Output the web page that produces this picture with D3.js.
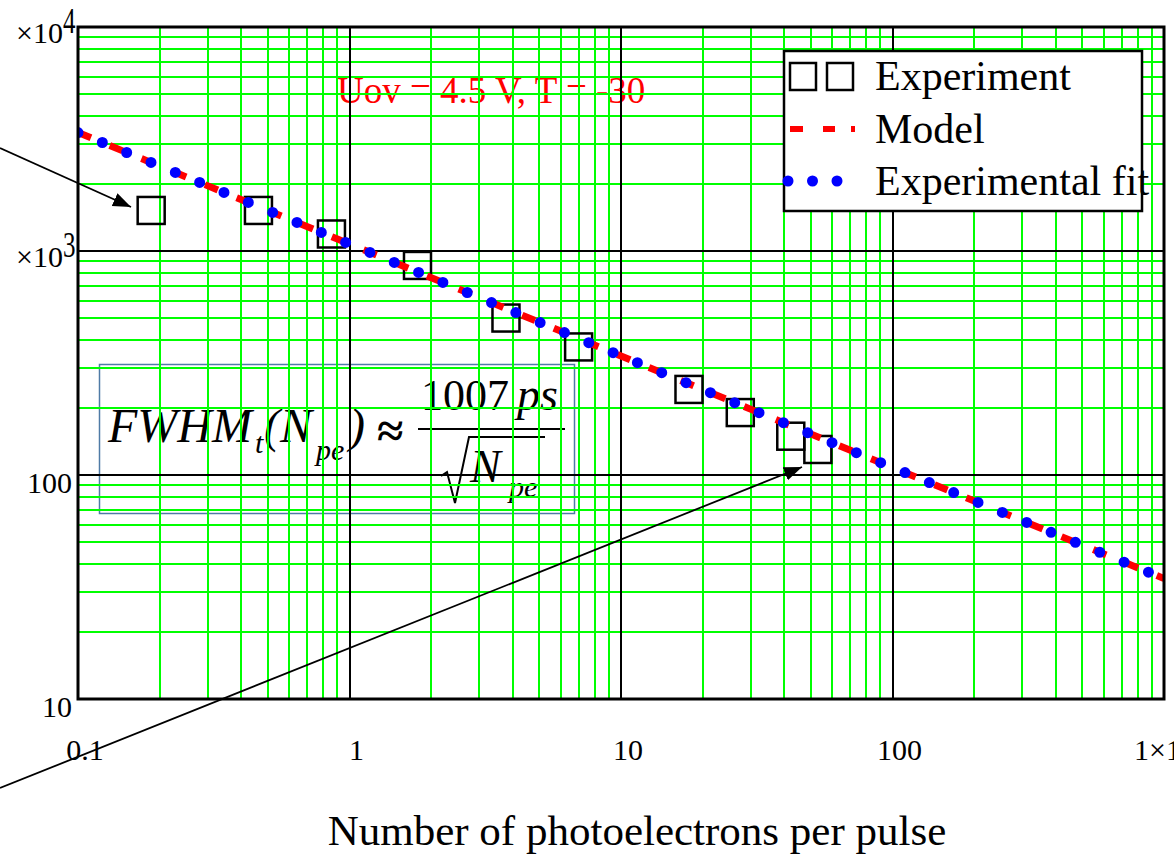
<html>
    <meta charset="utf-8">
    <head>
        <title> FWHM vs photoelectrons </title>
        <script charset="utf-8" src="https://cdn.jsdelivr.net/npm/d3@7"></script>
        <style>
            body { margin: 0; background: white; }
            text { font-family: "Liberation Serif", "Times New Roman", serif; }
        </style>
    </head>
    <body>
        <svg id="chart" width="1174" height="854"></svg>
    </body>
    <script>
        // experiment points
        const expN = [0.186, 0.462, 0.858, 1.78, 3.77, 6.98, 17.8, 27.5, 42.2, 53.1];
        const expFWHM = [1517, 1517, 1191, 862, 502, 373, 241, 190, 149, 130];
        // model line (red dashes)
        const modelN = [0.1, 1, 10, 100, 1000];
        const modelFWHM = [3380, 1075, 340, 108, 34.5];
        // experimental fit (blue dots)
        const fitN = [0.1, 1, 10, 100, 1000];
        const fitFWHM = [3380, 1075, 340, 108, 34.5];
        // tick labels
        const xTickVals = [0.1, 1, 10, 100, 1000];
        const xTickLabels = ["0.1", "1", "10", "100", "1×10"];
        const xTickSup = ["", "", "", "", "3"];
        const yTickVals = [10, 100, 1000, 10000];
        const yTickLabels = ["10", "100", "×10", "×10"];
        const yTickSup = ["", "", "3", "4"];
        const legendLabels = ["Experiment", "Model", "Experimental fit"];

        let margin = {top: 27, right: 9, bottom: 155, left: 78};
        let W = 1174, H = 854;
        let svg = d3.select("#chart");

        let x = d3.scaleLog().domain([0.1, 1000]).range([margin.left, W - margin.right - 1]);
        let y = d3.scaleLog().domain([10, 10000]).range([H - margin.bottom, margin.top]);
        let x0 = x.range()[0], x1 = x.range()[1], y0 = y.range()[0], y1 = y.range()[1];
        let px = v => Math.round(v);   // keep grid lines crisp

        svg.append("rect").attr("width", W).attr("height", H).attr("fill", "white");

        svg.append("defs").append("clipPath").attr("id", "plotclip")
            .append("rect").attr("x", x0).attr("y", y1).attr("width", x1 - x0).attr("height", y0 - y1);

        // red annotation text (under the grid)
        svg.append("text")
            .attr("x", 337).attr("y", 103)
            .style("font-size", "37px").style("fill", "red")
            .text("Uov = 4.5 V, T = -30");

        // formula box
        let fb = svg.append("g");
        fb.append("rect").attr("x", 99.5).attr("y", 364.5).attr("width", 475).attr("height", 149)
            .attr("fill", "none").attr("stroke", "#4f7ba6").attr("stroke-width", 1.5);
        fb.append("text").attr("x", 108).attr("y", 442).style("font-size", "48px").style("font-style", "italic").text("FWHM");
        fb.append("text").attr("x", 255).attr("y", 453).style("font-size", "30px").style("font-style", "italic").text("t");
        fb.append("text").attr("x", 264).attr("y", 442).style("font-size", "48px").style("font-style", "italic").text("(N");
        fb.append("text").attr("x", 316).attr("y", 460).style("font-size", "30px").style("font-style", "italic").text("pe");
        fb.append("text").attr("x", 349).attr("y", 442).style("font-size", "48px").style("font-style", "italic").text(")");
        fb.append("text").attr("x", 377).attr("y", 447).style("font-size", "48px").style("font-weight", "bold").text("≈");
        fb.append("text").attr("x", 421).attr("y", 410).style("font-size", "44px").text("1007");
        fb.append("text").attr("x", 517).attr("y", 410).style("font-size", "46px").style("font-style", "italic").text("ps");
        fb.append("line").attr("x1", 418).attr("x2", 565).attr("y1", 429).attr("y2", 429)
            .attr("stroke", "black").attr("stroke-width", 2);
        fb.append("path").attr("d", "M441,476 L447,472 L455,503 L469,437 L545,437")
            .attr("fill", "none").attr("stroke", "black").attr("stroke-width", 2);
        fb.append("text").attr("x", 470).attr("y", 482).style("font-size", "46px").style("font-style", "italic").text("N");
        fb.append("text").attr("x", 509).attr("y", 497).style("font-size", "30px").style("font-style", "italic").text("pe");

        // grid
        let xt = x.ticks(), yt = y.ticks();
        let isMajor = v => Math.abs(Math.log10(v) - Math.round(Math.log10(v))) < 1e-6;
        let grid = svg.append("g");
        grid.selectAll(".gx").data(xt.filter(d => !isMajor(d))).join("line")
            .attr("x1", d => px(x(d))).attr("x2", d => px(x(d))).attr("y1", y0).attr("y2", y1)
            .attr("stroke", "#00ff00").attr("stroke-width", 2);
        grid.selectAll(".gy").data(yt.filter(d => !isMajor(d))).join("line")
            .attr("y1", d => px(y(d))).attr("y2", d => px(y(d))).attr("x1", x0).attr("x2", x1)
            .attr("stroke", "#00ff00").attr("stroke-width", 2);
        grid.selectAll(".mx").data(xt.filter(isMajor)).join("line")
            .attr("x1", d => px(x(d))).attr("x2", d => px(x(d))).attr("y1", y0).attr("y2", y1)
            .attr("stroke", "black").attr("stroke-width", 2);
        grid.selectAll(".my").data(yt.filter(isMajor)).join("line")
            .attr("y1", d => px(y(d))).attr("y2", d => px(y(d))).attr("x1", x0).attr("x2", x1)
            .attr("stroke", "black").attr("stroke-width", 2);

        // data
        let plot = svg.append("g").attr("clip-path", "url(#plotclip)");
        let sq = 27;
        plot.selectAll(".exp").data(expN.map((n, i) => [n, expFWHM[i]])).join("rect")
            .attr("x", d => x(d[0]) - sq / 2).attr("y", d => y(d[1]) - sq / 2)
            .attr("width", sq).attr("height", sq)
            .attr("fill", "none").attr("stroke", "black").attr("stroke-width", 2.5);

        let line = d3.line().x(d => x(d[0])).y(d => y(d[1]));
        plot.append("path").datum(modelN.map((n, i) => [n, modelFWHM[i]]))
            .attr("d", line).attr("fill", "none")
            .attr("stroke", "#ff0000").attr("stroke-width", 7).attr("stroke-dasharray", "14,20.3");
        plot.append("path").datum(fitN.map((n, i) => [n, fitFWHM[i]]))
            .attr("d", line).attr("fill", "none")
            .attr("stroke", "#0000ff").attr("stroke-width", 11).attr("stroke-linecap", "round")
            .attr("stroke-dasharray", "0,26.3");

        // plot border
        svg.append("rect").attr("x", x0).attr("y", y1).attr("width", x1 - x0).attr("height", y0 - y1)
            .attr("fill", "none").attr("stroke", "black").attr("stroke-width", 3);

        // legend
        let lg = svg.append("g");
        lg.append("rect").attr("x", 784).attr("y", 51).attr("width", 358).attr("height", 160)
            .attr("fill", "white").attr("stroke", "black").attr("stroke-width", 2.5);
        [790, 827].forEach(lx => lg.append("rect").attr("x", lx).attr("y", 63).attr("width", 26).attr("height", 27)
            .attr("fill", "none").attr("stroke", "black").attr("stroke-width", 2.5));
        lg.append("line").attr("x1", 790).attr("x2", 860).attr("y1", 129).attr("y2", 129)
            .attr("stroke", "#ff0000").attr("stroke-width", 6).attr("stroke-dasharray", "13,20,12,16,4,80");
        lg.append("line").attr("x1", 788).attr("x2", 838).attr("y1", 181).attr("y2", 181)
            .attr("stroke", "#0000ff").attr("stroke-width", 11).attr("stroke-linecap", "round")
            .attr("stroke-dasharray", "0,24.5");
        lg.selectAll(".lt").data(legendLabels).join("text")
            .attr("x", 875).attr("y", (d, i) => 90 + i * 52.5)
            .style("font-size", "42px").text(d => d);

        // arrows
        let defs = svg.select("defs");
        defs.append("marker").attr("id", "arrow").attr("markerUnits", "userSpaceOnUse")
            .attr("viewBox", "0 -8 18 16").attr("refX", 18).attr("refY", 0)
            .attr("markerWidth", 18).attr("markerHeight", 16).attr("orient", "auto")
            .append("path").attr("d", "M0,-7L18,0L0,7Z").attr("fill", "black");
        svg.append("line").attr("x1", 0).attr("y1", 148).attr("x2", 131).attr("y2", 207)
            .attr("stroke", "black").attr("stroke-width", 1.8).attr("marker-end", "url(#arrow)");
        svg.append("line").attr("x1", 0).attr("y1", 788).attr("x2", 802).attr("y2", 467)
            .attr("stroke", "black").attr("stroke-width", 1.8).attr("marker-end", "url(#arrow)");

        // y tick labels
        yTickVals.forEach((v, i) => {
            if (yTickSup[i] === "") {
                svg.append("text").attr("x", 72).attr("y", y(v) + 18).attr("text-anchor", "end")
                    .style("font-size", "30px").text(yTickLabels[i]);
            } else {
                svg.append("text").attr("x", 63).attr("y", y(v) + 16).attr("text-anchor", "end")
                    .style("font-size", "30px").text(yTickLabels[i]);
                svg.append("text").attr("transform", `translate(63,${y(v) + 6}) scale(1,1.45)`)
                    .style("font-size", "25px").text(yTickSup[i]);
            }
        });

        // x tick labels
        xTickVals.forEach((v, i) => {
            let t = svg.append("text").attr("x", x(v) + 7).attr("y", 760).attr("text-anchor", "middle")
                .style("font-size", "30px");
            t.append("tspan").text(xTickLabels[i]);
            if (xTickSup[i] !== "") t.append("tspan").attr("dy", -12).style("font-size", "24px").text(xTickSup[i]);
        });

        // axis title
        svg.append("text").attr("x", 637).attr("y", 845).attr("text-anchor", "middle")
            .style("font-size", "43px").text("Number of photoelectrons per pulse");
    </script>
</html>
